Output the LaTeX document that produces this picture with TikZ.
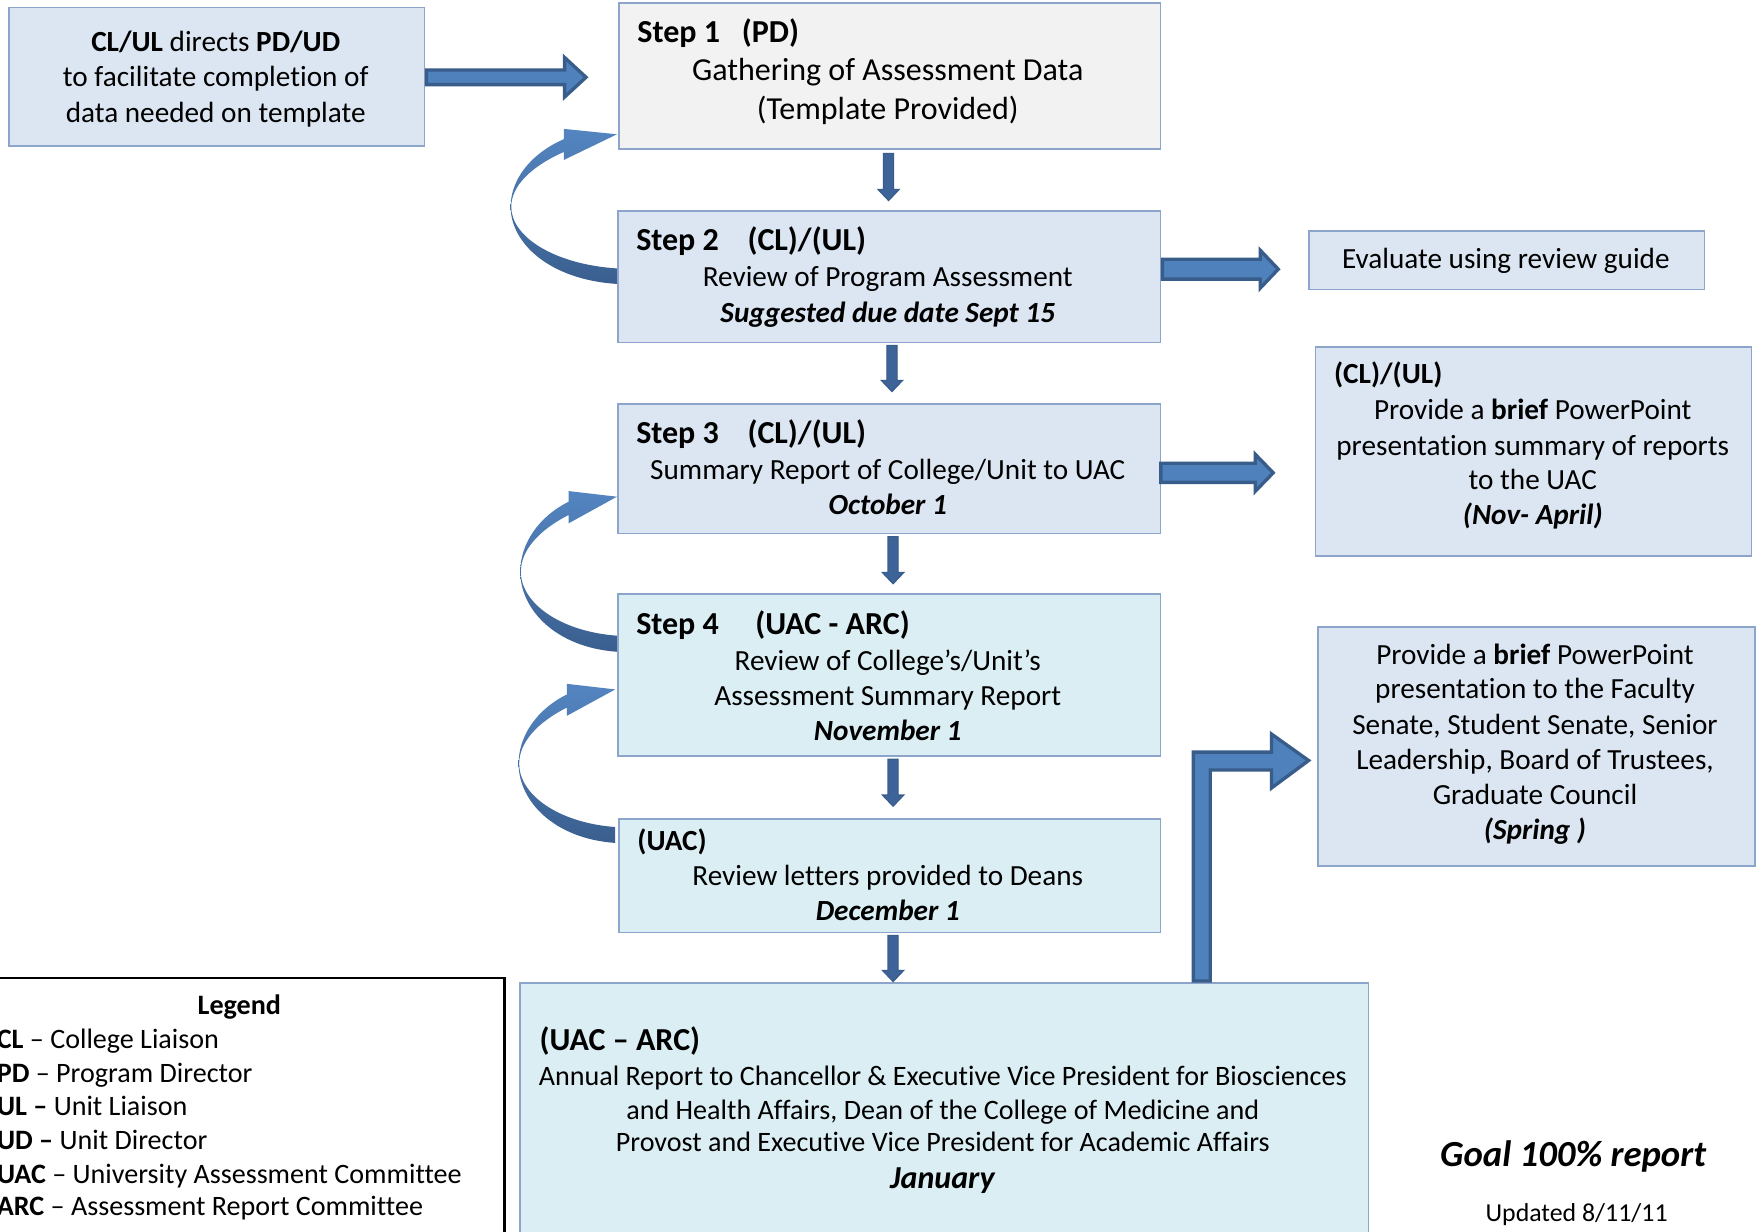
\documentclass[tikz,border=0pt]{standalone}
\usepackage{fontspec}
\setmainfont{Carlito}[Ligatures={TeX,NoCommon}]
\usetikzlibrary{calc}
\definecolor{boxblue}{RGB}{220,230,242}
\definecolor{boxgray}{RGB}{242,242,242}
\definecolor{boxaqua}{RGB}{219,238,244}
\definecolor{edge}{RGB}{141,165,203}
\definecolor{arfill}{RGB}{79,129,189}
\definecolor{aredge}{RGB}{56,93,138}
\definecolor{dnfill}{RGB}{61,99,153}
\definecolor{curtop}{RGB}{84,133,193}
\definecolor{curbot}{RGB}{58,95,143}
\newcommand\curvarrow[3]{%
\begin{scope}[shift={#1}, xscale=#2, yscale=#3]
\shade[top color=curtop, bottom color=curbot] (0,0) -- (-43,23.7) -- (-43,16.3)
 .. controls (-70,30) and (-85.5,48) .. (-85.5,66.8)
 .. controls (-85.5,95) and (-50,120) .. (0,123.7) -- (0,138)
 .. controls (-55,134) and (-86,100) .. (-86,66.8)
 .. controls (-86,42) and (-70,18) .. (-43,4.5) -- (-43,-5) -- cycle;
\end{scope}}
\newcommand\dnarrow[2]{%
\filldraw[darrow] ($(#1)+(-4.5,0)$) -- ++(0,#2) -- ++(-5,0) -- ++(9.5,10) -- ++(9.5,-10) -- ++(-5,0) -- ++(0,-#2) -- cycle;}
\begin{document}
\begin{tikzpicture}[x=1pt,y=-1pt,
 box/.style={draw=edge, line width=1.5pt, inner sep=0, anchor=north west},
 t/.style={inner sep=0, anchor=base, font=\fontsize{26}{31}\selectfont},
 tl/.style={t, anchor=base west},
 hd/.style={tl, font=\fontsize{28.5}{34}\selectfont\bfseries},
 big/.style={t, font=\fontsize{28.5}{34}\selectfont},
 sm/.style={t, font=\fontsize{25}{30}\selectfont},
 lgl/.style={tl, font=\fontsize{25}{30}\selectfont},
 barrow/.style={fill=arfill, draw=aredge, line width=3pt, line join=miter},
 darrow/.style={fill=dnfill, draw=aredge, line width=1pt},
]
\useasboundingbox (0,0) rectangle (1568,1096);
\clip (0,0) rectangle (1568,1096);
\fill[white] (0,0) rectangle (1568,1096);

% boxes
\node[box, fill=boxblue, minimum width=370pt, minimum height=123pt] (A) at (7,6) {};
\node[box, fill=boxgray, minimum width=482pt, minimum height=130pt] (s1) at (550,2) {};
\node[box, fill=boxblue, minimum width=483pt, minimum height=117pt] (s2) at (549,187) {};
\node[box, fill=boxblue, minimum width=352pt, minimum height=52pt] (ev) at (1164,205) {};
\node[box, fill=boxblue, minimum width=483pt, minimum height=115pt] (s3) at (549,359) {};
\node[box, fill=boxblue, minimum width=388pt, minimum height=186pt] (r1) at (1170,308) {};
\node[box, fill=boxaqua, minimum width=483pt, minimum height=144pt] (s4) at (549,528) {};
\node[box, fill=boxaqua, minimum width=482pt, minimum height=101pt] (uac) at (550,728) {};
\node[box, fill=boxblue, minimum width=389pt, minimum height=213pt] (r2) at (1172,557) {};
\node[box, fill=boxaqua, minimum width=755pt, minimum height=240pt] (ann) at (462,874) {};
\node[box, draw=black, line width=2pt, minimum width=468pt, minimum height=241pt] (leg) at (-20,869) {};

% texts
\node[t] (a1) at (192,46) {\textbf{CL/UL} directs \textbf{PD/UD}};
\node[t] (a2) at (192,77) {to facilitate completion of};
\node[t] (a3) at (192,109) {data needed on template};

\node[hd] (s1h) at (567,38) {Step 1};
\node[hd] (s1p) at (660,38) {(PD)};
\node[big] (s1a) at (790,72) {Gathering of Assessment Data};
\node[big] (s1b) at (790,106) {(Template Provided)};

\node[hd] (s2h) at (566,223) {Step 2};
\node[hd] (s2p) at (665,223) {(CL)/(UL)};
\node[t] (s2a) at (790,255) {Review of Program Assessment};
\node[t] (s2b) at (790,287) {\textbf{\textit{Suggested due date Sept 15}}};

\node[t] (eva) at (1340,239) {Evaluate using review guide};

\node[hd] (s3h) at (566,395) {Step 3};
\node[hd] (s3p) at (665,395) {(CL)/(UL)};
\node[t] (s3a) at (790,427) {Summary Report of College/Unit to UAC};
\node[t] (s3b) at (790,458) {\textbf{\textit{October 1}}};

\node[tl] (r1h) at (1187,341) {\textbf{(CL)/(UL)}};
\node[t] (r1a) at (1364,373) {Provide a \textbf{brief} PowerPoint};
\node[t] (r1b) at (1364,405) {presentation summary of reports};
\node[t] (r1c) at (1364,436) {to the UAC};
\node[t] (r1d) at (1364,467) {\textbf{\textit{(Nov- April)}}};

\node[hd] (s4h) at (566,565) {Step 4};
\node[hd] (s4p) at (672,565) {(UAC - ARC)};
\node[t] (s4a) at (790,597) {Review of College’s/Unit’s};
\node[t] (s4b) at (790,628) {Assessment Summary Report};
\node[t] (s4c) at (790,659) {\textbf{\textit{November 1}}};

\node[tl] (uh) at (567,757) {\textbf{(UAC)}};
\node[t] (ua) at (790,788) {Review letters provided to Deans};
\node[t] (ub) at (790,819) {\textbf{\textit{December 1}}};

\node[t] (r2a) at (1366,591) {Provide a \textbf{brief} PowerPoint};
\node[t] (r2b) at (1366,622) {presentation to the Faculty};
\node[t] (r2c) at (1366,654) {Senate, Student Senate, Senior};
\node[t] (r2d) at (1366,685) {Leadership, Board of Trustees,};
\node[t] (r2e) at (1366,716) {Graduate Council};
\node[t] (r2f) at (1366,747) {\textbf{\textit{(Spring )}}};

\node[hd] (anh) at (480,935) {(UAC – ARC)};
\node[sm] (ana) at (839,966) {Annual Report to Chancellor \& Executive Vice President for Biosciences};
\node[sm] (anb) at (839,996) {and Health Affairs, Dean of the College of Medicine and};
\node[sm] (anc) at (839,1025) {Provost and Executive Vice President for Academic Affairs};
\node[big] (and) at (839,1058) {\textbf{\textit{January}}};

\node[sm] (lg0) at (213,903) {\textbf{Legend}};
\node[lgl] (lg1) at (-3,933) {\textbf{CL} – College Liaison};
\node[lgl] (lg2) at (-3,963) {\textbf{PD} – Program Director};
\node[lgl] (lg3) at (-3,993) {\textbf{UL –} Unit Liaison};
\node[lgl] (lg4) at (-3,1023) {\textbf{UD –} Unit Director};
\node[lgl] (lg5) at (-3,1053) {\textbf{UAC} – University Assessment Committee};
\node[lgl] (lg6) at (-3,1082) {\textbf{ARC} – Assessment Report Committee};

\node[t, font=\fontsize{32.7}{38}\selectfont] (goal) at (1400,1038) {\textbf{\textit{Goal 100\% report}}};
\node[t, font=\fontsize{23}{28}\selectfont] (upd) at (1403,1087) {Updated 8/11/11};

% horizontal block arrows
\filldraw[barrow] ($(A.east)+(1,-6)$) -- ++(123,0) -- ++(0,-11) -- ++(19,17.5) -- ++(-19,17.5) -- ++(0,-11) -- ++(-123,0) -- cycle;
\filldraw[barrow] ($(s2.east)+(1,-15.5)$) -- ++(87,0) -- ++(0,-8) -- ++(16,16.8) -- ++(-16,16.8) -- ++(0,-8) -- ++(-87,0) -- cycle;
\filldraw[barrow] ($(r1.west)+(-137,10.5)$) -- ++(84,0) -- ++(0,-8) -- ++(16,16.5) -- ++(-16,16.5) -- ++(0,-8) -- ++(-84,0) -- cycle;

% bent arrow
\coordinate (bt) at ($(ann.north west)+(600,-1)$);
\coordinate (bh) at ($(r2.west)+(-7.5,12.5)$);
\filldraw[barrow] (bt) |- ($(bh)+(-33,-7.5)$) -- ++(0,-16) -- (bh) -- ++(-33,24.5) -- ++(0,-16) -| ($(bt)+(15,0)$) -- cycle;

% down arrows
\coordinate (d1) at ($(s1.south)+(-1,3)$);
\coordinate (d2) at ($(s2.south)+(2.5,2)$);
\coordinate (d3) at ($(s3.south)+(3.5,2)$);
\coordinate (d4) at ($(s4.south)+(3.5,2)$);
\coordinate (d5) at ($(uac.south)+(3,2)$);
\dnarrow{d1}{32}
\dnarrow{d2}{31}
\dnarrow{d3}{32}
\dnarrow{d4}{32}
\dnarrow{d5}{31}

% curved arrows
\curvarrow{($(s1.south west)+(-1,-14)$)}{1.1}{0.965}
\curvarrow{($(s3.south west)+(0,-33.5)$)}{1}{1}
\curvarrow{($(s4.south west)+(-1.5,-60)$)}{1}{0.99}
\end{tikzpicture}
\end{document}
